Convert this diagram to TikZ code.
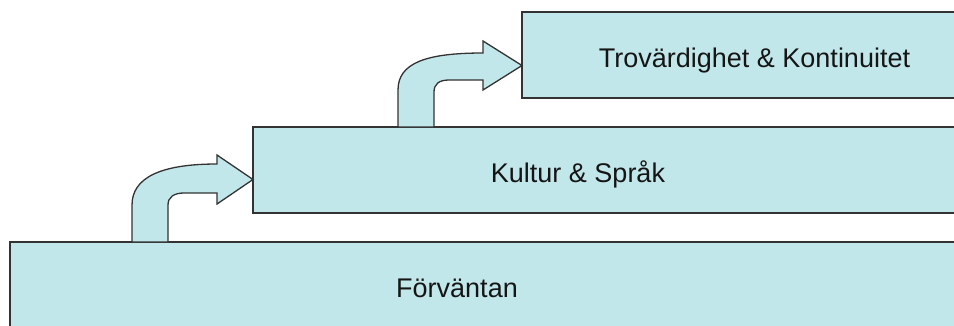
\documentclass[tikz,border=0pt]{standalone}
\usepackage{fontspec}
\setmainfont{Liberation Sans}
\definecolor{boxfill}{HTML}{C2E7EA}
\definecolor{boxline}{HTML}{333333}
\definecolor{txt}{HTML}{151515}
\begin{document}
\begin{tikzpicture}[x=1pt,y=-1pt,
  stepbox/.style={draw=boxline,fill=boxfill,line width=1.3pt,inner sep=0pt,outer sep=0pt},
  bentarrow/.style={draw=boxline,fill=boxfill,line width=1.3pt,line join=miter},
  lbl/.style={text=txt,font=\fontsize{27}{30}\selectfont,inner sep=0pt,anchor=base}]
\useasboundingbox (0,0) rectangle (954,325);
\clip (0,0) rectangle (954,325);
% boxes
\node[stepbox,minimum width=980pt,minimum height=110pt,anchor=north west] (b1) at (10,242) {};
\node[stepbox,minimum width=720pt,minimum height=86pt,anchor=north west] (b2) at (253,127) {};
\node[stepbox,minimum width=450pt,minimum height=86pt,anchor=north west] (b3) at (522,12) {};
% labels
\node[lbl] (t1) at (457,297) {Förväntan};
\node[lbl] (t2) at (578,182) {Kultur \& Språk};
\node[lbl] (t3) at (754.5,67.5) {Trovärdighet \& Kontinuitet};
% bent arrows
\draw[bentarrow] (132,242) -- (132,205) .. controls (132,178) and (160,164) .. (217,164)
  -- (217,155) -- (b2.west |- 0,179.5) -- (217,204) -- (217,193) -- (184,193)
  .. controls (174,193) and (168,197) .. (168,205) -- (168,242) -- cycle;
\draw[bentarrow] (398,127) -- (398,90) .. controls (398,63) and (426,53) .. (483,53)
  -- (483,41) -- (b3.west |- 0,65.5) -- (483,90) -- (483,80) -- (449,80)
  .. controls (439,80) and (434,84) .. (434,92) -- (434,127) -- cycle;
\end{tikzpicture}
\end{document}
